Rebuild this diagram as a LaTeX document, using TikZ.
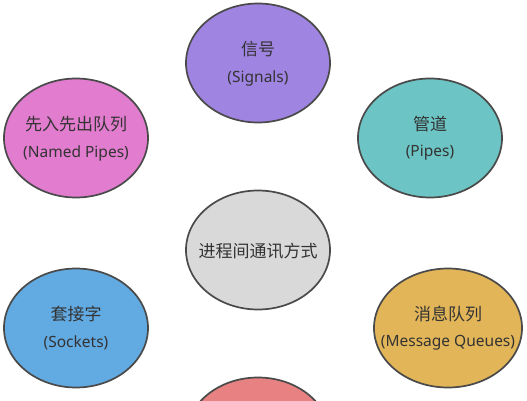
\documentclass[tikz,border=0pt]{standalone}
\usepackage{fontspec}
\setmainfont{Noto Sans}
\newfontfamily\cjk{Noto Sans CJK SC}
\usetikzlibrary{shapes.geometric}
\definecolor{edge}{HTML}{4A4A4A}
\definecolor{txt}{HTML}{333333}
\definecolor{cpurple}{HTML}{A084E2}
\definecolor{cpink}{HTML}{E27CCF}
\definecolor{cteal}{HTML}{6CC4C4}
\definecolor{cgray}{HTML}{D9D9D9}
\definecolor{cblue}{HTML}{62AAE2}
\definecolor{cgold}{HTML}{E2B658}
\definecolor{cred}{HTML}{E88282}
\tikzset{
  oval/.style={ellipse, draw=edge, line width=1.7pt, minimum width=144pt, minimum height=119pt, inner sep=0pt},
  zh/.style={text=txt, font=\cjk\fontsize{17}{19}\selectfont, inner sep=0pt},
  en/.style={text=txt, font=\fontsize{15.5}{17}\selectfont, inner sep=0pt}
}
\begin{document}
\begin{tikzpicture}[x=1pt,y=-1pt]
\useasboundingbox (0,0) rectangle (527,400);
\node[oval, fill=cpurple] (sig) at (258,63) {};
\node[oval, fill=cpink] (named) at (76,138) {};
\node[oval, fill=cteal] (pipe) at (430,138) {};
\node[oval, fill=cgray] (core) at (258,250) {};
\node[oval, fill=cblue] (sock) at (76,328) {};
\node[oval, fill=cgold, minimum width=148pt] (mq) at (448,328) {};
\node[oval, fill=cred] (shm) at (258,437) {};
\node[zh] (sigzh) at ([yshift=14pt]sig.center) {信号};
\node[en] (sigen) at ([yshift=-15pt]sig.center) {(Signals)};
\node[zh] (namedzh) at ([yshift=14pt]named.center) {先入先出队列};
\node[en] (nameden) at ([yshift=-15pt]named.center) {(Named Pipes)};
\node[zh] (pipezh) at ([yshift=14pt]pipe.center) {管道};
\node[en] (pipeen) at ([yshift=-15pt]pipe.center) {(Pipes)};
\node[zh] (corezh) at ([yshift=-1pt]core.center) {进程间通讯方式};
\node[zh] (sockzh) at ([yshift=14pt]sock.center) {套接字};
\node[en] (socken) at ([yshift=-15pt]sock.center) {(Sockets)};
\node[zh] (mqzh) at ([yshift=14pt]mq.center) {消息队列};
\node[en] (mqen) at ([yshift=-15pt]mq.center) {(Message Queues)};
\end{tikzpicture}
\end{document}
